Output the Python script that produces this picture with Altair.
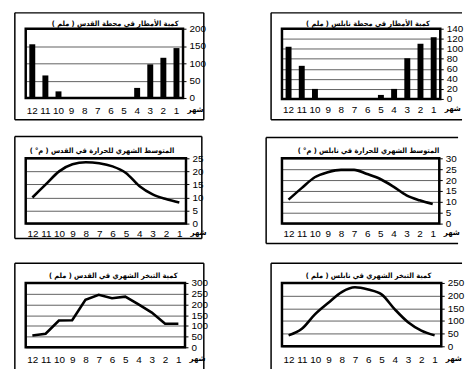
import altair as alt
import pandas as pd

# Months run right-to-left: 12 on the left, 1 on the right
months = ["12", "11", "10", "9", "8", "7", "6", "5", "4", "3", "2", "1"]

# Monthly rainfall (mm)
rain_quds = [155, 65, 19, 0, 0, 0, 0, 1, 29, 97, 116, 144]
rain_nablus = [104, 66, 20, 0, 0, 0, 0, 8, 20, 81, 110, 123]

# Monthly mean temperature (°C)
temp_quds = [10, 15, 20, 22.7, 23.5, 23.1, 21.9, 19.4, 14.4, 11.2, 9.4, 8.1]
temp_nablus = [11, 16.3, 21.3, 23.6, 24.7, 24.7, 22.8, 20.5, 17, 13, 10.7, 9]

# Monthly evaporation (mm)
evap_quds = [55, 63, 125, 126, 221, 245, 229, 236, 200, 162, 110, 110]
evap_nablus = [43, 69, 127, 172, 214, 233, 224, 205, 146, 95, 62, 43]

titles = [
    "كمية الأمطار في محطة القدس ( ملم )",
    "كمية الأمطار في محطة نابلس ( ملم )",
    "المتوسط الشهري للحرارة في القدس ( م° )",
    "المتوسط الشهري للحرارة في نابلس ( م° )",
    "كمية التبخر الشهري في القدس ( ملم )",
    "كمية التبخر الشهري في نابلس ( ملم )",
]

one = pd.DataFrame({"k": [0]})
ARABIC = "DejaVu Sans Condensed, DejaVu Sans"


def panel(values, kind, title, ymax, step, w, h, dx, ty, label_pad, frame,
          interp="monotone"):
    df = pd.DataFrame({"month": months, "value": values})
    if kind == "bar":
        xscale = alt.Scale(paddingInner=0, paddingOuter=0)
    else:
        xscale = alt.Scale(type="point", padding=0.5)
    x = alt.X(
        "month:O", sort=months, scale=xscale,
        axis=alt.Axis(title="شهر", labelAngle=0, ticks=False, domain=False,
                      grid=False, labelPadding=label_pad,
                      titleX=w + 4, titleY=label_pad, titleAlign="left",
                      titleBaseline="top", titleFontSize=8,
                      titleFont=ARABIC, titleFontWeight="bold"),
    )
    y = alt.Y(
        "value:Q", scale=alt.Scale(domain=[0, ymax], nice=False),
        axis=alt.Axis(orient="right", values=list(range(0, ymax + 1, step)),
                      title=None, domain=False, tickSize=3, tickColor="black",
                      grid=True, gridColor="#606060", gridWidth=1,
                      labelPadding=3),
    )
    base = alt.Chart(df).encode(x=x, y=y)
    if kind == "bar":
        data_layer = base.mark_bar(color="black", size=6)
    else:
        data_layer = base.mark_line(color="black", strokeWidth=2.6,
                                    interpolate=interp)

    # thick border around the plot area, drawn above the gridlines
    border = alt.Chart(one).mark_rect(
        fillOpacity=0, stroke="black", strokeWidth=2.5
    ).encode(x=alt.value(0), x2=alt.value(w), y=alt.value(0), y2=alt.value(h))

    heading = alt.Chart(one).mark_text(
        text=title, font=ARABIC, fontSize=7.5, fontWeight="bold",
        align="center", baseline="alphabetic", color="black",
    ).encode(x=alt.value(w / 2 + dx), y=alt.value(ty))

    # outer frame around each panel (open on the sides that run off the page)
    fl, fr, ft, fb, right_open, bottom_open = frame
    edges = [
        alt.Chart(one).mark_rule(color="black", strokeWidth=1.5).encode(
            x=alt.value(fl), x2=alt.value(fr), y=alt.value(ft)),
        alt.Chart(one).mark_rule(color="black", strokeWidth=1.5).encode(
            x=alt.value(fl), y=alt.value(ft), y2=alt.value(fb)),
    ]
    if not bottom_open:
        edges.append(alt.Chart(one).mark_rule(color="black", strokeWidth=1.5).encode(
            x=alt.value(fl), x2=alt.value(fr), y=alt.value(fb)))
    if not right_open:
        edges.append(alt.Chart(one).mark_rule(color="black", strokeWidth=1.5).encode(
            x=alt.value(fr), y=alt.value(ft), y2=alt.value(fb)))

    return alt.layer(data_layer, border, heading, *edges).properties(
        width=w, height=h)


p1 = panel(rain_quds, "bar", titles[0], 200, 50, 159, 70, 11, -3, 8,
           (-11, 180, -16, 92, False, False))
p2 = panel(rain_nablus, "bar", titles[1], 140, 20, 160, 71, 7, -3, 6,
           (-11, 182, -16, 92, True, False))
p3 = panel(temp_quds, "line", titles[2], 25, 5, 162, 66, -4, -5, 5,
           (-11, 178, -22, 81, False, False))
p4 = panel(temp_nablus, "line", titles[3], 30, 5, 159, 66, 8, -5, 5,
           (-16, 178, -21, 86, True, False))
p5 = panel(evap_quds, "line", titles[4], 300, 50, 161, 65, 8, -5, 7,
           (-11, 180, -20, 87, False, True), interp="linear")
p6 = panel(evap_nablus, "line", titles[5], 250, 50, 161, 64, 7, -5, 8,
           (-11, 182, -20, 87, True, True))

chart = alt.ConcatChart(
    concat=[p1, p2, p3, p4, p5, p6], columns=2,
    spacing={"row": 60, "column": 97}, bounds="flush",
    padding={"left": 13, "top": 9, "right": 0, "bottom": 0},
).configure_view(stroke=None).configure_axis(
    labelFont="Liberation Sans", labelFontSize=9, labelFontWeight="bold",
    labelColor="black",
).configure(background="white")

chart.save("out.html", embed_options={"renderer": "svg", "actions": False})
